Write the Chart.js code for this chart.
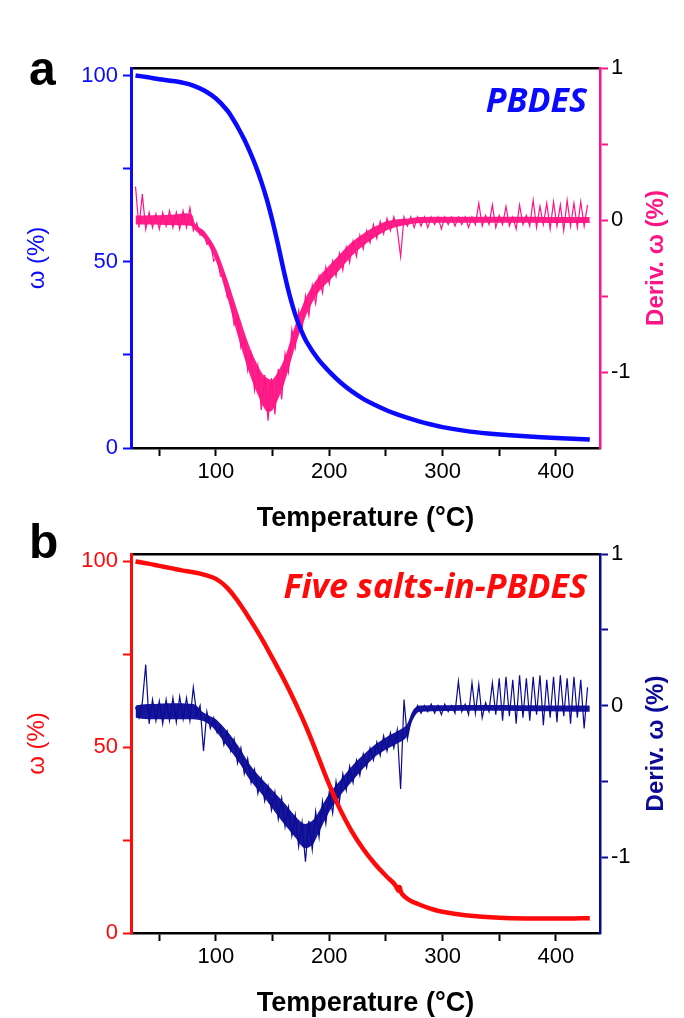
<!DOCTYPE html>
<html>
<head>
<meta charset="utf-8">
<script src="https://cdn.jsdelivr.net/npm/chart.js@4.4.1/dist/chart.umd.min.js"></script>
<style>
  html, body { margin: 0; padding: 0; background: #fff; }
  #wrap { position: relative; width: 684px; height: 1018px; overflow: hidden; }
  canvas { position: absolute; left: 0; }
  #chartA { top: 0; }
  #chartB { top: 490px; }
</style>
</head>
<body>
<div id="wrap">
  <canvas id="chartA" width="684" height="540"></canvas>
  <canvas id="chartB" width="684" height="528"></canvas>
</div>
<script>
// ---- data ----
var xTicks = [50, 100, 150, 200, 250, 300, 350, 400];
var wTicks = [0, 25, 50, 75, 100];
var dTicks = [-1, -0.5, 0, 0.5, 1];

// weight loss curves (ω, %)
var tgaTempA = [29, 40, 50, 60, 70, 80, 90, 100, 110, 115, 120, 125, 130, 135, 140, 145, 150, 155, 160, 165, 170, 175, 180, 190, 200, 210, 220, 230, 240, 250, 260, 270, 280, 290, 300, 320, 340, 360, 380, 400, 430];
var tgaA = [100, 99.5, 99.0, 98.6, 98.1, 97.3, 95.9, 93.8, 90.6, 88.3, 85.7, 82.8, 79.5, 75.8, 71.5, 66.6, 60.8, 54.3, 47.4, 41.0, 35.8, 31.7, 28.5, 23.9, 20.5, 17.6, 15.2, 13.2, 11.6, 10.2, 9.0, 8.0, 7.1, 6.3, 5.6, 4.6, 3.9, 3.4, 3.0, 2.7, 2.3];

var tgaTempB = [29, 40, 50, 60, 70, 80, 90, 100, 110, 120, 130, 140, 150, 160, 170, 180, 190, 200, 210, 220, 230, 240, 250, 258, 261, 262, 264, 270, 280, 290, 300, 320, 350, 380, 410, 430];
var tgaB = [100, 99.4, 98.8, 98.2, 97.6, 97.1, 96.4, 95.3, 92.9, 89.0, 84.4, 79.4, 73.9, 68.2, 62.0, 55.2, 47.6, 39.9, 33.0, 27.3, 22.6, 18.7, 15.4, 13.0, 11.4, 12.4, 10.6, 9.0, 7.6, 6.5, 5.7, 4.8, 4.1, 3.9, 3.9, 4.0];

// derivative curves (noisy), sampled every 3 °C
var dtgTemp = [29, 32, 35, 38, 41, 44, 47, 50, 53, 56, 59, 62, 65, 68, 71, 74, 77, 80, 83, 86, 89, 92, 95, 98,
  101, 104, 107, 110, 113, 116, 119, 122, 125, 128, 131, 134, 137, 140, 143, 146, 149, 152, 155, 158, 161, 164,
  167, 170, 173, 176, 179, 182, 185, 188, 191, 194, 197, 200, 203, 206, 209, 212, 215, 218, 221, 224, 227, 230,
  233, 236, 239, 242, 245, 248, 251, 254, 257, 260, 263, 266, 269, 272, 275, 278, 281, 284, 287, 290, 293, 296,
  299, 302, 305, 308, 311, 314, 317, 320, 323, 326, 329, 332, 335, 338, 341, 344, 347, 350, 353, 356, 359, 362,
  365, 368, 371, 374, 377, 380, 383, 386, 389, 392, 395, 398, 401, 404, 407, 410, 413, 416, 419, 422, 425, 428];

var dtgA = [0.22, -0.05, 0.17, -0.06, 0.05, -0.05, 0.04, -0.06, 0.05, -0.04, 0.06, -0.05, 0.05, -0.06, 0.06, -0.05, 0.08, -0.07, -0.02, -0.1, -0.08, -0.16, -0.14, -0.27,
  -0.24, -0.37, -0.36, -0.51, -0.52, -0.69, -0.64, -0.84, -0.77, -0.99, -0.88, -1.12, -0.96, -1.25, -1.02, -1.32, -1.04, -1.28, -0.98, -1.18, -0.88, -1.0,
  -0.72, -0.84, -0.6, -0.72, -0.5, -0.63, -0.43, -0.55, -0.37, -0.48, -0.31, -0.42, -0.27, -0.37, -0.22, -0.33, -0.18, -0.28, -0.14, -0.24, -0.1, -0.19,
  -0.07, -0.15, -0.03, -0.12, -0.01, -0.09, 0.01, -0.07, 0.02, -0.06, -0.24, 0.02, -0.04, 0.02, -0.05, 0.02, -0.04, 0.02, -0.05, 0.02, -0.03, 0.02,
  -0.06, 0.02, -0.03, 0.02, -0.04, 0.02, -0.03, 0.02, -0.05, 0.02, -0.03, 0.11, -0.04, 0.03, -0.03, 0.1, -0.05, 0.03, -0.03, 0.09, -0.04, 0.02,
  -0.06, 0.1, -0.03, 0.03, -0.04, 0.13, -0.05, 0.09, -0.03, 0.11, -0.06, 0.12, -0.04, 0.1, -0.07, 0.13, -0.04, 0.11, -0.05, 0.12, -0.04, 0.1];

var dtgB = [-0.01, -0.08, 0.02, 0.27, -0.12, 0.04, -0.1, 0.03, -0.12, 0.04, -0.1, 0.05, -0.11, 0.06, -0.09, 0.05, -0.1, 0.12, -0.06, 0.0, -0.3, -0.04, -0.15, -0.08,
  -0.18, -0.14, -0.26, -0.17, -0.3, -0.22, -0.38, -0.28, -0.45, -0.35, -0.51, -0.42, -0.58, -0.48, -0.63, -0.53, -0.69, -0.57, -0.75, -0.61, -0.8, -0.67,
  -0.86, -0.72, -0.93, -0.77, -1.03, -0.76, -0.95, -0.7, -0.87, -0.63, -0.78, -0.57, -0.71, -0.5, -0.63, -0.45, -0.56, -0.4, -0.51, -0.36, -0.46, -0.32,
  -0.41, -0.28, -0.36, -0.24, -0.33, -0.2, -0.3, -0.18, -0.28, -0.16, -0.55, 0.04, -0.22, -0.1, -0.06, 0.0, -0.05, 0.0, -0.04, 0.01, -0.05, 0.0,
  -0.06, 0.01, -0.04, 0.0, -0.05, 0.16, -0.04, 0.01, -0.06, 0.15, -0.05, 0.14, -0.08, 0.02, -0.04, 0.15, -0.06, 0.18, -0.1, 0.19, -0.07, 0.17,
  -0.12, 0.2, -0.08, 0.18, -0.1, 0.19, -0.06, 0.2, -0.13, 0.17, -0.08, 0.19, -0.11, 0.2, -0.07, 0.18, -0.12, 0.19, -0.08, 0.17, -0.15, 0.12];

// dense core of the derivative noise band (upper / lower edge)
var bandTempA = [29, 40, 60, 78, 82, 90, 100, 110, 120, 130, 140, 145, 150, 160, 170, 180, 190, 200, 210, 220, 230, 240, 250, 260, 270, 280, 430];
var bandUpA = [0.03, 0.03, 0.035, 0.04, -0.03, -0.075, -0.19, -0.39, -0.62, -0.84, -1.0, -1.04, -1.05, -0.92, -0.69, -0.5, -0.38, -0.3, -0.22, -0.145, -0.09, -0.045, -0.01, 0.005, 0.01, 0.02, 0.02];
var bandLowA = [-0.03, -0.03, -0.035, -0.04, -0.07, -0.125, -0.27, -0.51, -0.78, -1.02, -1.2, -1.26, -1.25, -1.08, -0.83, -0.62, -0.48, -0.4, -0.32, -0.235, -0.17, -0.115, -0.07, -0.045, -0.03, -0.02, -0.02];

var bandTempB = [29, 40, 80, 88, 95, 100, 110, 120, 130, 140, 150, 160, 170, 178, 185, 190, 200, 210, 220, 230, 240, 250, 260, 268, 274, 280, 430];
var bandUpB = [0.0, 0.01, 0.01, -0.04, -0.07, -0.09, -0.17, -0.27, -0.39, -0.48, -0.56, -0.64, -0.73, -0.78, -0.76, -0.71, -0.58, -0.49, -0.4, -0.325, -0.26, -0.21, -0.17, -0.13, -0.03, 0.0, 0.0];
var bandLowB = [-0.08, -0.09, -0.09, -0.1, -0.13, -0.17, -0.27, -0.37, -0.49, -0.58, -0.68, -0.78, -0.87, -0.94, -0.92, -0.85, -0.7, -0.59, -0.5, -0.415, -0.34, -0.29, -0.25, -0.21, -0.09, -0.04, -0.04];

// ---- drawing ----
var FONT = '"Liberation Sans", Arial, sans-serif';
Chart.defaults.font.family = FONT;

function pairs(xs, ys) {
    return xs.map((x, i) => ({ x: x, y: ys[i] }));
}

function setTicks(list) {
    return scale => { scale.ticks = list.map(v => ({ value: v })); };
}

// panel letter, sample label and the right-hand axis title (reads bottom to top)
var panelText = {
    id: 'panelText',
    afterDraw(chart, args, o) {
        var ctx = chart.ctx;
        var area = chart.chartArea;
        ctx.save();
        ctx.fillStyle = '#000';
        ctx.font = 'bold 48px ' + FONT;
        ctx.textBaseline = 'alphabetic';
        ctx.fillText(o.letter, 29, o.letterY);

        ctx.fillStyle = o.labelColor;
        ctx.font = 'italic bold 34px "Open Sans", sans-serif';
        ctx.textAlign = 'right';
        ctx.fillText(o.label, area.right - 13, area.top + 44);

        ctx.translate(656, (area.top + area.bottom) / 2);
        ctx.rotate(-Math.PI / 2);
        ctx.textAlign = 'center';
        ctx.textBaseline = 'middle';
        ctx.fillStyle = o.rightColor;
        ctx.font = 'bold 24px ' + FONT;
        ctx.fillText('Deriv. ω (%)', 0, 0);
        ctx.restore();
    }
};

function makeConfig(p) {
    return {
        type: 'line',
        data: {
            datasets: [
                {
                    data: pairs(p.tgaTemp, p.tga), yAxisID: 'yL', borderColor: p.leftColor,
                    borderWidth: 4.5, pointRadius: 0, tension: 0.4
                },
                {
                    data: pairs(dtgTemp, p.dtg), yAxisID: 'yR', borderColor: p.rightColor,
                    borderWidth: 1.2, pointRadius: 0, tension: 0
                },
                {
                    data: pairs(p.bandTemp, p.bandUp), yAxisID: 'yR', borderWidth: 1, borderColor: 'rgba(0,0,0,0)',
                    pointRadius: 0, tension: 0.3, fill: '+1', backgroundColor: p.bandColor
                },
                {
                    data: pairs(p.bandTemp, p.bandLow), yAxisID: 'yR', borderWidth: 1, borderColor: 'rgba(0,0,0,0)',
                    pointRadius: 0, tension: 0.3, fill: false
                }
            ]
        },
        options: {
            responsive: false,
            animation: false,
            devicePixelRatio: 1,
            layout: { padding: { top: p.top, left: 0, right: 0, bottom: 0 } },
            plugins: {
                legend: { display: false },
                tooltip: { enabled: false },
                panelText: { letter: p.letter, letterY: p.letterY, label: p.label, labelColor: p.leftColor, rightColor: p.rightColor }
            },
            scales: {
                x: {
                    type: 'linear', position: 'bottom', min: 25, max: 439,
                    afterBuildTicks: setTicks(xTicks),
                    afterFit: s => { s.height = p.xHeight; },
                    ticks: { callback: v => (v % 100 === 0 ? v : ''), color: '#000', font: { size: 22 }, padding: 3, maxRotation: 0, autoSkip: false },
                    grid: { drawOnChartArea: false, tickLength: 8, tickColor: '#000', tickWidth: 2 },
                    border: { color: '#000', width: 2.5 },
                    title: {
                        display: true, text: 'Temperature (°C)', color: '#000',
                        font: { size: 27, weight: 'bold', lineHeight: 1 }, padding: { top: 0, bottom: p.titlePad }
                    }
                },
                xTop: {
                    type: 'linear', position: 'top', min: 25, max: 439,
                    afterFit: s => { s.height = 0; },
                    ticks: { display: false },
                    grid: { drawOnChartArea: false, drawTicks: false },
                    border: { color: '#000', width: 2.5 }
                },
                yL: {
                    type: 'linear', position: 'left', min: 0, max: 102,
                    afterBuildTicks: setTicks(wTicks),
                    afterFit: s => { s.width = 131; },
                    ticks: { callback: v => (v % 50 === 0 ? v : ''), color: p.leftColor, font: { size: 22 }, padding: 5 },
                    grid: { drawOnChartArea: false, tickLength: 8, tickColor: p.leftColor, tickWidth: 2 },
                    border: { color: p.leftColor, width: 3 },
                    title: { display: true, text: 'ω (%)', color: p.leftColor, font: { size: 24, lineHeight: 1 }, padding: { top: 25, bottom: 0 } }
                },
                yR: {
                    type: 'linear', position: 'right', min: -1.5, max: 1,
                    afterBuildTicks: setTicks(dTicks),
                    afterFit: s => { s.width = 84; },
                    ticks: { callback: v => (Number.isInteger(v) ? v : ''), color: '#000', font: { size: 22 }, padding: 3 },
                    grid: { drawOnChartArea: false, tickLength: 8, tickColor: p.rightColor, tickWidth: 2 },
                    border: { color: p.rightColor, width: 2.5 }
                }
            }
        },
        plugins: [panelText]
    };
}

var chartA = new Chart(document.getElementById('chartA'), makeConfig({
    tgaTemp: tgaTempA, tga: tgaA, dtg: dtgA,
    bandTemp: bandTempA, bandUp: bandUpA, bandLow: bandLowA,
    leftColor: '#0a0aff', rightColor: '#ff1485', bandColor: 'rgba(255, 20, 133, 0.95)',
    letter: 'a', letterY: 85, label: 'PBDES',
    top: 68, xHeight: 92, titlePad: 8
}));

var chartB = new Chart(document.getElementById('chartB'), makeConfig({
    tgaTemp: tgaTempB, tga: tgaB, dtg: dtgB,
    bandTemp: bandTempB, bandUp: bandUpB, bandLow: bandLowB,
    leftColor: '#ff0a0a', rightColor: '#0a0a96', bandColor: 'rgba(10, 10, 150, 0.95)',
    letter: 'b', letterY: 68, label: 'Five salts-in-PBDES',
    top: 64, xHeight: 85, titlePad: 1
}));
</script>
</body>
</html>
